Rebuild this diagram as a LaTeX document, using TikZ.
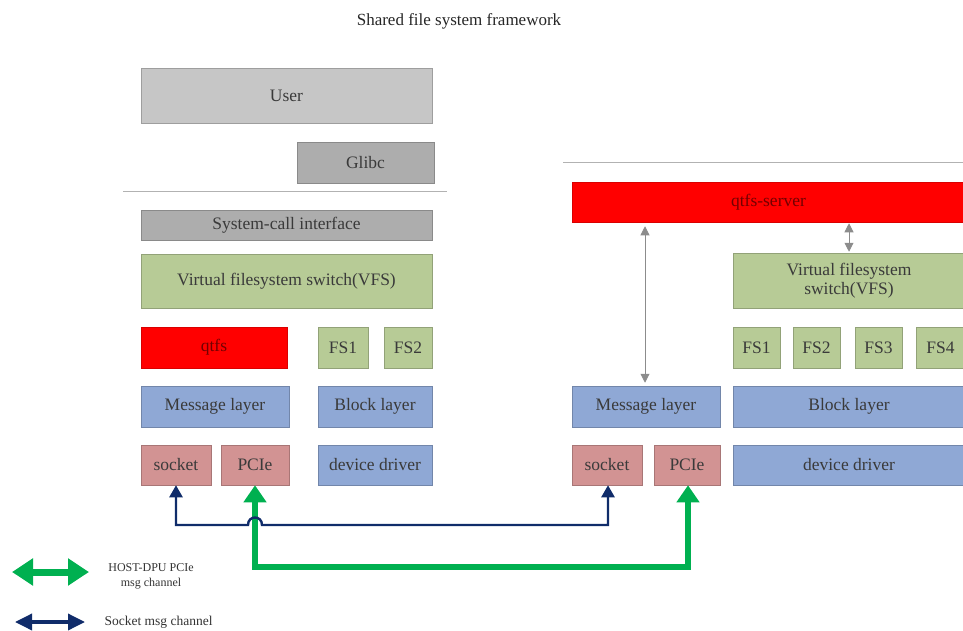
\documentclass[tikz,border=0pt]{standalone}
\usepackage{fontspec}
\setmainfont{Liberation Serif}
\usetikzlibrary{arrows.meta,shadows,calc}
\definecolor{usergray}{HTML}{C6C6C6}
\definecolor{darkgray2}{HTML}{ADADAD}
\definecolor{vfsgreen}{HTML}{B7CB96}
\definecolor{layerblue}{HTML}{8FA8D5}
\definecolor{pinkred}{HTML}{D29393}
\definecolor{txt}{HTML}{3A3A3A}
\definecolor{chgreen}{HTML}{00B050}
\definecolor{chnavy}{HTML}{102C6A}
\tikzset{
  blk/.style={draw=#1!80!black, fill=#1, line width=0.5pt, inner sep=0pt, text=txt,
    font=\fontsize{17.5}{19}\selectfont, align=center,
    drop shadow={opacity=0.25, shadow xshift=1.2pt, shadow yshift=-1.2pt}},
  box/.style args={#1/#2/#3/#4/#5}{blk=#5, minimum width={(#2)-(#1)}, minimum height={(#4)-(#3)}},
  sepline/.style={draw=black!30, line width=0.8pt},
  grayarr/.style={draw=black!45, line width=0.9pt, {Triangle[length=9pt,width=9pt]}-{Triangle[length=9pt,width=9pt]}},
  legtext/.style={font=\fontsize{13.5}{15}\selectfont, text=black!80, align=center}
}
\newcommand{\bx}[7]{\node[box={#3/#4/#5/#6/#7}] (#1) at ({(#3+#4)/2},{(#5+#6)/2}) {#2};}
\begin{document}
\begin{tikzpicture}[x=1pt,y=-1pt]
\useasboundingbox (0,0) rectangle (963,631);
\node[font=\fontsize{17}{19}\selectfont, text=black!85] (title) at (459,21) {Shared file system framework};
% left host stack
\bx{user}{User}{141}{432}{68}{123}{usergray}
\bx{glibc}{Glibc}{297}{434}{142}{183}{darkgray2}
\draw[sepline] (123,191) coordinate (sepA) -- (447,191) coordinate (sepB);
\bx{sci}{System-call interface}{141}{432}{210}{240}{darkgray2}
\bx{vfsL}{Virtual filesystem switch(VFS)}{141}{432}{254}{308}{vfsgreen}
\node[box={141/287/327/368/red}, draw=red!85!black, text=red!45!black] (qtfs) at (214,347.5) {qtfs};
\bx{fs1L}{FS1}{318}{368}{327}{368}{vfsgreen}
\bx{fs2L}{FS2}{384}{432}{327}{368}{vfsgreen}
\bx{msgL}{Message layer}{141}{289}{386}{427}{layerblue}
\bx{blkL}{Block layer}{318}{432}{386}{427}{layerblue}
\bx{sockL}{socket}{141}{211}{445}{485}{pinkred}
\bx{pcieL}{PCIe}{221}{289}{445}{485}{pinkred}
\bx{drvL}{device driver}{318}{432}{445}{485}{layerblue}
% right DPU stack
\draw[sepline] (563,162) coordinate (sepC) -- (963,162) coordinate (sepD);
\node[box={572/965/182/222/red}, draw=red!85!black, text=red!45!black] (srv) at (768.5,202) {qtfs-server};
\bx{vfsR}{Virtual filesystem\\switch(VFS)}{733}{965}{253}{308}{vfsgreen}
\bx{fs1R}{FS1}{733}{780}{327}{368}{vfsgreen}
\bx{fs2R}{FS2}{793}{840}{327}{368}{vfsgreen}
\bx{fs3R}{FS3}{855}{902}{327}{368}{vfsgreen}
\bx{fs4R}{FS4}{916}{965}{327}{368}{vfsgreen}
\bx{msgR}{Message layer}{572}{720}{386}{427}{layerblue}
\bx{blkR}{Block layer}{733}{965}{386}{427}{layerblue}
\bx{sockR}{socket}{572}{642}{445}{485}{pinkred}
\bx{pcieR}{PCIe}{654}{720}{445}{485}{pinkred}
\bx{drvR}{device driver}{733}{965}{445}{485}{layerblue}
% gray arrows
\draw[grayarr] (msgR.north -| 645,0) ++(0,-3) coordinate (ga1) -- ($(ga1 |- srv.south)+(0,4)$);
\draw[grayarr] (849,0 |- vfsR.north) ++(0,-1) coordinate (ga2) -- ($(ga2 |- srv.south)+(0,1)$);
% channels
\coordinate (nL) at (176,525);
\coordinate (nR) at (608,525);
\coordinate (gL) at (255,567);
\coordinate (gR) at (688,567);
\draw[draw=chgreen, line width=5.5pt, {Triangle[length=17pt,width=22pt]}-{Triangle[length=17pt,width=22pt]}, line join=miter]
  (pcieL.south -| gL) -- (gL) -- (gR) -- (pcieR.south -| gR);
\draw[draw=chnavy, line width=2.4pt, {Triangle[length=12pt,width=13pt]}-{Triangle[length=12pt,width=13pt]}, line join=miter]
  (sockL.south -| nL) -- (nL) -- (248,525) .. controls (248,515) and (262,515) .. (262,525) -- (nR) -- (sockR.south -| nR);
% legend
\coordinate (lg1a) at (12,572); \coordinate (lg1b) at (89,572);
\draw[draw=chgreen, line width=7pt, {Triangle[length=21pt,width=26pt]}-{Triangle[length=21pt,width=26pt]}] (lg1a) -- (lg1b);
\node[legtext, font=\fontsize{12}{15}\selectfont] (leg1) at (151,576) {HOST-DPU PCIe\\msg channel};
\coordinate (lg2a) at (15,622); \coordinate (lg2b) at (85,622);
\draw[draw=chnavy, line width=3.5pt, {Triangle[length=17pt,width=16pt]}-{Triangle[length=17pt,width=16pt]}] (lg2a) -- (lg2b);
\node[legtext, anchor=west] (leg2) at (101,622) {Socket msg channel};
\end{tikzpicture}
\end{document}
